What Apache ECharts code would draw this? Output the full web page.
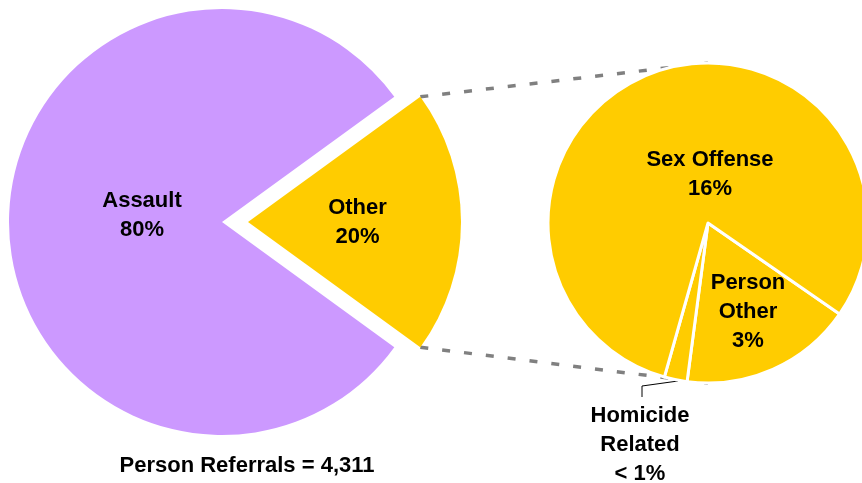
<!DOCTYPE html>
<html>
<head>
<meta charset="utf-8">
<script src="https://cdn.jsdelivr.net/npm/echarts@6/dist/echarts.min.js"></script>
<style>
html, body { margin: 0; padding: 0; background: #fff; }
#chart { width: 862px; height: 483px; }
</style>
</head>
<body>
<div id="chart"></div>
<script>
// main pie
const mainNames = ['Other', 'Assault'];
const mainValues = [20, 80];
const mainPct = ['20%', '80%'];
// breakdown of "Other"
const subNames = ['Person\nOther', 'Homicide\nRelated', 'Sex Offense'];
const subValues = [3.49, 0.46, 16.05];
const subPct = ['3%', '< 1%', '16%'];
const footer = 'Person Referrals = 4,311';

const PURPLE = '#CC99FF';
const GOLD = '#FFCC00';
const FONT = 'Arial, "Liberation Sans", sans-serif';

// layout
const L = { cx: 222, cy: 222, r: 213, off: 26 };
const R = { cx: 708, cy: 223, r: 160, start: -34.7 };
const labelPos = {
    'Assault': [142, 215],
    'Other': [361, 223],
    'Sex Offense': [710, 174],
    'Person\nOther': [748, 312],
    'Homicide\nRelated': [640, 445]
};

const chart = echarts.init(document.getElementById('chart'));

const mainTotal = mainValues.reduce((a, b) => a + b, 0);
const half = mainValues[0] / mainTotal * 180;   // half angle of exploded slice
const rad = half * Math.PI / 180;
const ax = L.cx + L.off;
const topA = [ax + L.r * Math.cos(rad), L.cy - L.r * Math.sin(rad)];
const botA = [ax + L.r * Math.cos(rad), L.cy + L.r * Math.sin(rad)];
const topB = [R.cx, R.cy - R.r];
const botB = [R.cx, R.cy + R.r];

const textStyle = {
    color: '#000',
    fontFamily: FONT,
    fontWeight: 'bold',
    fontSize: 22,
    lineHeight: 29
};

function placeLabel(names) {
    return function (p) {
        const pos = labelPos[names[p.dataIndex]];
        const out = { x: pos[0], y: pos[1], align: 'center', verticalAlign: 'middle' };
        if (names[p.dataIndex] === 'Homicide\nRelated') {
            out.labelLinePoints = [[678, 381], [642, 386], [642, 397]];
        }
        return out;
    };
}

const option = {
    animation: false,
    graphic: [
        {
            type: 'line', z: 0,
            shape: { x1: topA[0], y1: topA[1], x2: topB[0], y2: topB[1] },
            style: { stroke: '#808080', lineWidth: 3.5, lineDash: [8, 14] }
        },
        {
            type: 'line', z: 0,
            shape: { x1: botA[0], y1: botA[1], x2: botB[0], y2: botB[1] },
            style: { stroke: '#808080', lineWidth: 3.5, lineDash: [8, 14] }
        },
        {
            type: 'text', z: 10,
            x: 247, y: 466,
            style: Object.assign({ text: footer, align: 'center', verticalAlign: 'middle' }, textStyle, { fill: '#000' })
        }
    ],
    series: [
        {
            type: 'pie',
            center: [L.cx, L.cy],
            radius: L.r,
            startAngle: half,
            clockwise: true,
            selectedMode: 'single',
            selectedOffset: L.off,
            silent: true,
            emphasis: { disabled: true },
            select: { itemStyle: { borderWidth: 0 } },
            itemStyle: { borderWidth: 0 },
            label: Object.assign({ position: 'inside', formatter: p => p.name + '\n' + mainPct[p.dataIndex] }, textStyle),
            labelLine: { show: false },
            labelLayout: placeLabel(mainNames),
            data: mainNames.map((n, i) => ({
                name: n,
                value: mainValues[i],
                selected: i === 0,
                itemStyle: { color: i === 0 ? GOLD : PURPLE },
                select: { itemStyle: { color: i === 0 ? GOLD : PURPLE } }
            }))
        },
        {
            type: 'pie',
            center: [R.cx, R.cy],
            radius: R.r,
            startAngle: R.start,
            clockwise: true,
            silent: true,
            emphasis: { disabled: true },
            itemStyle: { color: GOLD, borderColor: '#fff', borderWidth: 3 },
            label: Object.assign({ position: 'inside', formatter: p => p.name + '\n' + subPct[p.dataIndex] }, textStyle),
            labelLine: { show: false },
            labelLayout: placeLabel(subNames),
            data: subNames.map((n, i) => {
                const d = { name: n, value: subValues[i] };
                if (n === 'Homicide\nRelated') {
                    d.label = { position: 'outside' };
                    d.labelLine = { show: true, length: 5, length2: 5, lineStyle: { color: '#000', width: 1 } };
                }
                return d;
            })
        }
    ]
};

chart.setOption(option);
</script>
</body>
</html>
